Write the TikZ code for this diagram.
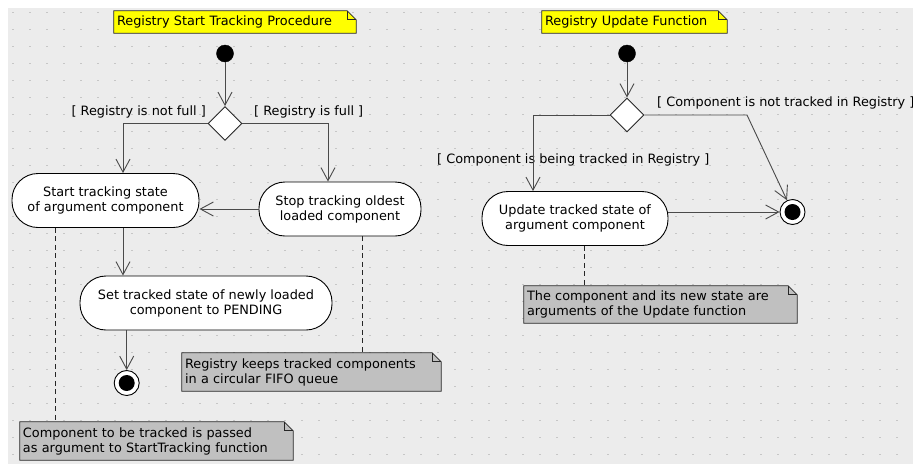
\documentclass[tikz,border=0pt]{standalone}
\usepackage{fontspec}
\setmainfont{DejaVu Sans}
\usetikzlibrary{arrows.meta,shapes.geometric}
\definecolor{canvas}{HTML}{ECECEC}
\definecolor{griddot}{HTML}{C6C6C6}
\definecolor{notegray}{HTML}{C0C0C0}
\definecolor{titleyellow}{HTML}{FFFF00}
\definecolor{wire}{HTML}{4A4A4A}
\pgfdeclarelayer{canvaslayer}
\pgfdeclarelayer{paperlayer}
\pgfsetlayers{canvaslayer,paperlayer,main}
% sheet with a folded top-right corner, drawn behind the text of node #1
\newcommand\notesheet[2]{%
  \begin{pgfonlayer}{paperlayer}
    \filldraw[fill=#2, draw=black!85, line width=0.8pt]
      (#1.north west) -- ([xshift=-9pt]#1.north east)
      -- ([yshift=-9pt]#1.north east) -- (#1.south east)
      -- (#1.south west) -- cycle;
    \draw[black!85, line width=0.8pt]
      ([xshift=-9pt]#1.north east) |- ([yshift=-9pt]#1.north east);
  \end{pgfonlayer}}
\begin{document}
\begin{tikzpicture}[x=1pt,y=-1pt,
  every node/.style={font=\fontsize{12.85}{15}\selectfont},
  action/.style={draw=black, fill=white, line width=0.9pt, rounded corners=26pt,
    align=center, inner sep=0pt, minimum height=54pt},
  decision/.style={diamond, aspect=1, draw=black!85, fill=white, line width=0.9pt,
    minimum size=34pt, inner sep=0pt},
  initial/.style={circle, fill=black, draw=black, minimum size=17pt, inner sep=0pt},
  final/.style={circle, fill=white, draw=black, line width=0.9pt, minimum size=25pt, inner sep=0pt},
  flow/.style={draw=wire, line width=0.9pt, -{Straight Barb[length=13pt,width=14pt]}},
  memo/.style={draw=black!85, line width=0.8pt, dash pattern=on 5pt off 3.5pt},
  guard/.style={inner sep=0pt},
  sheet/.style={inner xsep=3pt, inner ysep=0pt, align=left}
]
\useasboundingbox (0,0) rectangle (913,464);

% canvas with dotted grid
\begin{pgfonlayer}{canvaslayer}
  \fill[white] (0,0) rectangle (913,464);
  \fill[canvas] (8,8) rectangle (913,464);
  \foreach \i in {0,...,52}
    \foreach \j in {0,...,26}
      \fill[griddot] (13+17*\i-0.8, 12.5+17*\j-0.8) rectangle ++(1.6,1.6);
\end{pgfonlayer}

% ---------- Start tracking procedure ----------
\node[sheet, minimum width=242pt, minimum height=22pt, text width=236pt] (title1) at (235,22)
  {Registry Start Tracking Procedure};
\notesheet{title1}{titleyellow}

\node[initial] (init1) at (225,53.5) {};
\node[decision] (dec1) at (225,123.5) {};
\node[action, minimum width=187pt] (act1) at (105.5,200.5) {Start tracking state\\of argument component};
\node[action, minimum width=162pt] (act2) at (340,209) {Stop tracking oldest\\loaded component};
\node[action, minimum width=252pt] (act3) at (206,303) {Set tracked state of newly loaded\\component to PENDING};
\node[final] (fin1) at (126.7,383) {};
\fill[black] (fin1.center) circle[radius=8pt];

\node[guard, anchor=east] (g1) at (206,112) {[ Registry is not full ]};
\node[guard, anchor=west] (g2) at (254,112) {[ Registry is full ]};

\draw[flow] (init1) -- (dec1);
\draw[flow] (dec1.west) -| ([xshift=17.5pt]act1.north);
\draw[flow] (dec1.east) -| ([xshift=-12pt]act2.north);
\draw[flow] (act2.west) -- (act2.west -| act1.east);
\draw[flow] ([xshift=17.5pt]act1.south) -- ([xshift=17.5pt]act1.south |- act3.north);
\draw[flow] (fin1 |- act3.south) -- (fin1);

\node[sheet, minimum width=273pt, minimum height=38pt, text width=267pt] (note1) at (156.5,441)
  {Component to be tracked is passed\\as argument to StartTracking function};
\notesheet{note1}{notegray}
\node[sheet, minimum width=259pt, minimum height=38pt, text width=253pt] (note2) at (311.5,372)
  {Registry keeps tracked components\\in a circular FIFO queue};
\notesheet{note2}{notegray}

\draw[memo] ([xshift=-50.5pt]act1.south) -- ([xshift=-50.5pt]act1.south |- note1.north);
\draw[memo] ([xshift=22pt]act2.south) -- ([xshift=22pt]act2.south |- note2.north);

% ---------- Update function ----------
\node[sheet, minimum width=185pt, minimum height=22pt, text width=179pt] (title2) at (634.5,22)
  {Registry Update Function};
\notesheet{title2}{titleyellow}

\node[initial] (init2) at (627,53.5) {};
\node[decision] (dec2) at (627,115) {};
\node[action, minimum width=186pt] (act4) at (575,218.5) {Update tracked state of\\argument component};
\node[final] (fin2) at (792.5,212) {};
\fill[black] (fin2.center) circle[radius=8pt];
\coordinate (bend2) at (747,115);

\node[guard, anchor=west] (g3) at (437,160) {[ Component is being tracked in Registry ]};
\node[guard, anchor=west] (g4) at (657,103) {[ Component is not tracked in Registry ]};

\draw[flow] (init2) -- (dec2);
\draw[flow] (dec2.west) -| ([xshift=-42pt]act4.north);
\draw[flow] (dec2.east) -- (bend2) -- (fin2);
\draw[flow] (act4.east |- fin2) -- (fin2);

\node[sheet, minimum width=273pt, minimum height=37pt, text width=267pt] (note3) at (660.5,304.5)
  {The component and its new state are\\arguments of the Update function};
\notesheet{note3}{notegray}
\draw[memo] ([xshift=9pt]act4.south) -- ([xshift=9pt]act4.south |- note3.north);
\end{tikzpicture}
\end{document}
